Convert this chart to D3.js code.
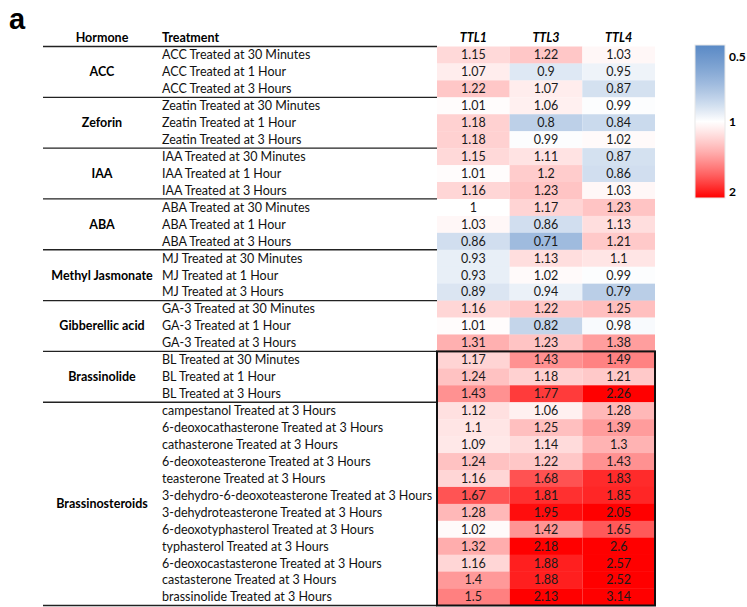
<!DOCTYPE html>
<html>
<head>
<meta charset="utf-8">
<script src="https://cdn.jsdelivr.net/npm/d3@7"></script>
<style>
  html, body { margin: 0; padding: 0; background: #fff; }
  svg { display: block; }
  text { font-family: Lato, "Open Sans", sans-serif; }
</style>
</head>
<body>
<svg id="chart" width="747" height="607"></svg>
<script>
// Expression fold-change of TTL genes after hormone treatment
const genes = ["TTL1", "TTL3", "TTL4"];

const hormones = ["ACC", "Zeforin", "IAA", "ABA", "Methyl Jasmonate", "Gibberellic acid", "Brassinolide", "Brassinosteroids"];
const hormoneCounts = [3, 3, 3, 3, 3, 3, 3, 12];

const treatments = [
  "ACC Treated at 30 Minutes", "ACC Treated at 1 Hour", "ACC Treated at 3 Hours",
  "Zeatin Treated at 30 Minutes", "Zeatin Treated at 1 Hour", "Zeatin Treated at 3 Hours",
  "IAA Treated at 30 Minutes", "IAA Treated at 1 Hour", "IAA Treated at 3 Hours",
  "ABA Treated at 30 Minutes", "ABA Treated at 1 Hour", "ABA Treated at 3 Hours",
  "MJ Treated at 30 Minutes", "MJ Treated at 1 Hour", "MJ Treated at 3 Hours",
  "GA-3 Treated at 30 Minutes", "GA-3 Treated at 1 Hour", "GA-3 Treated at 3 Hours",
  "BL Treated at 30 Minutes", "BL Treated at 1 Hour", "BL Treated at 3 Hours",
  "campestanol Treated at 3 Hours",
  "6-deoxocathasterone Treated at 3 Hours",
  "cathasterone Treated at 3 Hours",
  "6-deoxoteasterone Treated at 3 Hours",
  "teasterone Treated at 3 Hours",
  "3-dehydro-6-deoxoteasterone Treated at 3 Hours",
  "3-dehydroteasterone Treated at 3 Hours",
  "6-deoxotyphasterol Treated at 3 Hours",
  "typhasterol Treated at 3 Hours",
  "6-deoxocastasterone Treated at 3 Hours",
  "castasterone Treated at 3 Hours",
  "brassinolide Treated at 3 Hours"
];

const ttl1 = [1.15, 1.07, 1.22, 1.01, 1.18, 1.18, 1.15, 1.01, 1.16, 1, 1.03, 0.86,
  0.93, 0.93, 0.89, 1.16, 1.01, 1.31, 1.17, 1.24, 1.43,
  1.12, 1.1, 1.09, 1.24, 1.16, 1.67, 1.28, 1.02, 1.32, 1.16, 1.4, 1.5];
const ttl3 = [1.22, 0.9, 1.07, 1.06, 0.8, 0.99, 1.11, 1.2, 1.23, 1.17, 0.86, 0.71,
  1.13, 1.02, 0.94, 1.22, 0.82, 1.23, 1.43, 1.18, 1.77,
  1.06, 1.25, 1.14, 1.22, 1.68, 1.81, 1.95, 1.42, 2.18, 1.88, 1.88, 2.13];
const ttl4 = [1.03, 0.95, 0.87, 0.99, 0.84, 1.02, 0.87, 0.86, 1.03, 1.23, 1.13, 1.21,
  1.1, 0.99, 0.79, 1.25, 0.98, 1.38, 1.49, 1.21, 2.26,
  1.28, 1.39, 1.3, 1.43, 1.83, 1.85, 2.05, 1.65, 2.6, 2.57, 2.52, 3.14];

const legendTicks = [0.5, 1, 2];

const seriesValues = [ttl1, ttl3, ttl4];
const cells = [];
treatments.forEach((t, i) => {
  genes.forEach((g, j) => cells.push({ row: i, gene: g, value: seriesValues[j][i] }));
});

const svg = d3.select("#chart");

const tableLeft = 43, hormoneX = 102, treatmentX = 162;
const y = d3.scaleBand().domain(d3.range(treatments.length)).range([46.5, 605.5]);
const x = d3.scaleBand().domain(genes).range([437, 655]);

const color = d3.scaleLinear()
  .domain([0.5, 1, 2])
  .range(["#5a8ac6", "#ffffff", "#ff0000"])
  .clamp(true);

// panel letter
svg.append("text")
  .attr("x", 9).attr("y", 29)
  .style("font-family", "Liberation Sans, Arial, sans-serif")
  .style("font-weight", "bold").style("font-size", "29px")
  .text("a");

// heatmap cells
svg.append("g").selectAll("rect").data(cells).join("rect")
  .attr("x", d => x(d.gene))
  .attr("y", d => y(d.row))
  .attr("width", x.bandwidth())
  .attr("height", y.bandwidth() + 0.3)
  .attr("fill", d => color(d.value));

svg.append("g").selectAll("text").data(cells).join("text")
  .attr("x", d => x(d.gene) + x.bandwidth() / 2)
  .attr("y", d => y(d.row) + y.bandwidth() / 2)
  .attr("dy", "0.35em")
  .attr("text-anchor", "middle")
  .style("font-size", "12.5px").style("fill", "#1a1a1a")
  .text(d => d.value);

// headers
const headerY = 42;
svg.append("text").attr("x", hormoneX).attr("y", headerY).attr("text-anchor", "middle")
  .style("font-weight", "bold").style("font-size", "12.5px").text("Hormone");
svg.append("text").attr("x", treatmentX).attr("y", headerY)
  .style("font-weight", "bold").style("font-size", "12.5px").text("Treatment");
svg.append("g").selectAll("text").data(genes).join("text")
  .attr("x", d => x(d) + x.bandwidth() / 2).attr("y", headerY)
  .attr("text-anchor", "middle")
  .style("font-weight", "bold").style("font-style", "italic").style("font-size", "12.5px")
  .text(d => d);

// treatment labels
svg.append("g").selectAll("text").data(treatments).join("text")
  .attr("x", treatmentX)
  .attr("y", (d, i) => y(i) + y.bandwidth() / 2)
  .attr("dy", "0.35em")
  .style("font-size", "12.5px").style("fill", "#111")
  .text(d => d);

// hormone groups
const starts = hormoneCounts.map((c, i) => d3.sum(hormoneCounts.slice(0, i)));
const groups = hormones.map((h, i) => ({ name: h, start: starts[i], count: hormoneCounts[i] }));

svg.append("g").selectAll("text").data(groups).join("text")
  .attr("x", hormoneX)
  .attr("y", d => y(d.start) + d.count * y.step() / 2)
  .attr("dy", "0.35em")
  .attr("text-anchor", "middle")
  .style("font-weight", "bold").style("font-size", "12.5px")
  .text(d => d.name);

// rule lines under header, between groups and at the bottom
const ruleYs = [y(0)].concat(groups.slice(1).map(g => y(g.start)), [y.range()[1]]);
svg.append("g").selectAll("line").data(ruleYs).join("line")
  .attr("x1", tableLeft).attr("x2", x.range()[0])
  .attr("y1", d => d).attr("y2", d => d)
  .attr("stroke", "#222").attr("stroke-width", 1.3);

// highlight box around the brassinosteroid-related rows
const blStart = groups[6].start;
svg.append("rect")
  .attr("x", x.range()[0]).attr("y", y(blStart))
  .attr("width", x.range()[1] - x.range()[0])
  .attr("height", y.range()[1] - y(blStart))
  .attr("fill", "none").attr("stroke", "#111").attr("stroke-width", 2);

// colour legend
const lx = 695, lw = 30;
const ly = d3.scaleLog().base(2).domain([0.5, 2]).range([45, 198]);
const grad = svg.append("defs").append("linearGradient")
  .attr("id", "legendGrad").attr("x1", 0).attr("x2", 0).attr("y1", 0).attr("y2", 1);
d3.range(0, 1.0001, 0.05).forEach(t => {
  const v = ly.invert(45 + t * 153);
  grad.append("stop").attr("offset", t).attr("stop-color", color(v));
});
svg.append("rect")
  .attr("x", lx).attr("y", ly.range()[0])
  .attr("width", lw).attr("height", ly.range()[1] - ly.range()[0])
  .attr("fill", "url(#legendGrad)")
  .attr("stroke", "#e8e8e8").attr("stroke-width", 1);
svg.append("g").selectAll("text").data(legendTicks).join("text")
  .attr("x", lx + lw + 4)
  .attr("y", d => Math.min(Math.max(ly(d), 57), 192))
  .attr("dy", "0.35em")
  .style("font-weight", "bold").style("font-size", "12px")
  .text(d => d);
</script>
</body>
</html>
